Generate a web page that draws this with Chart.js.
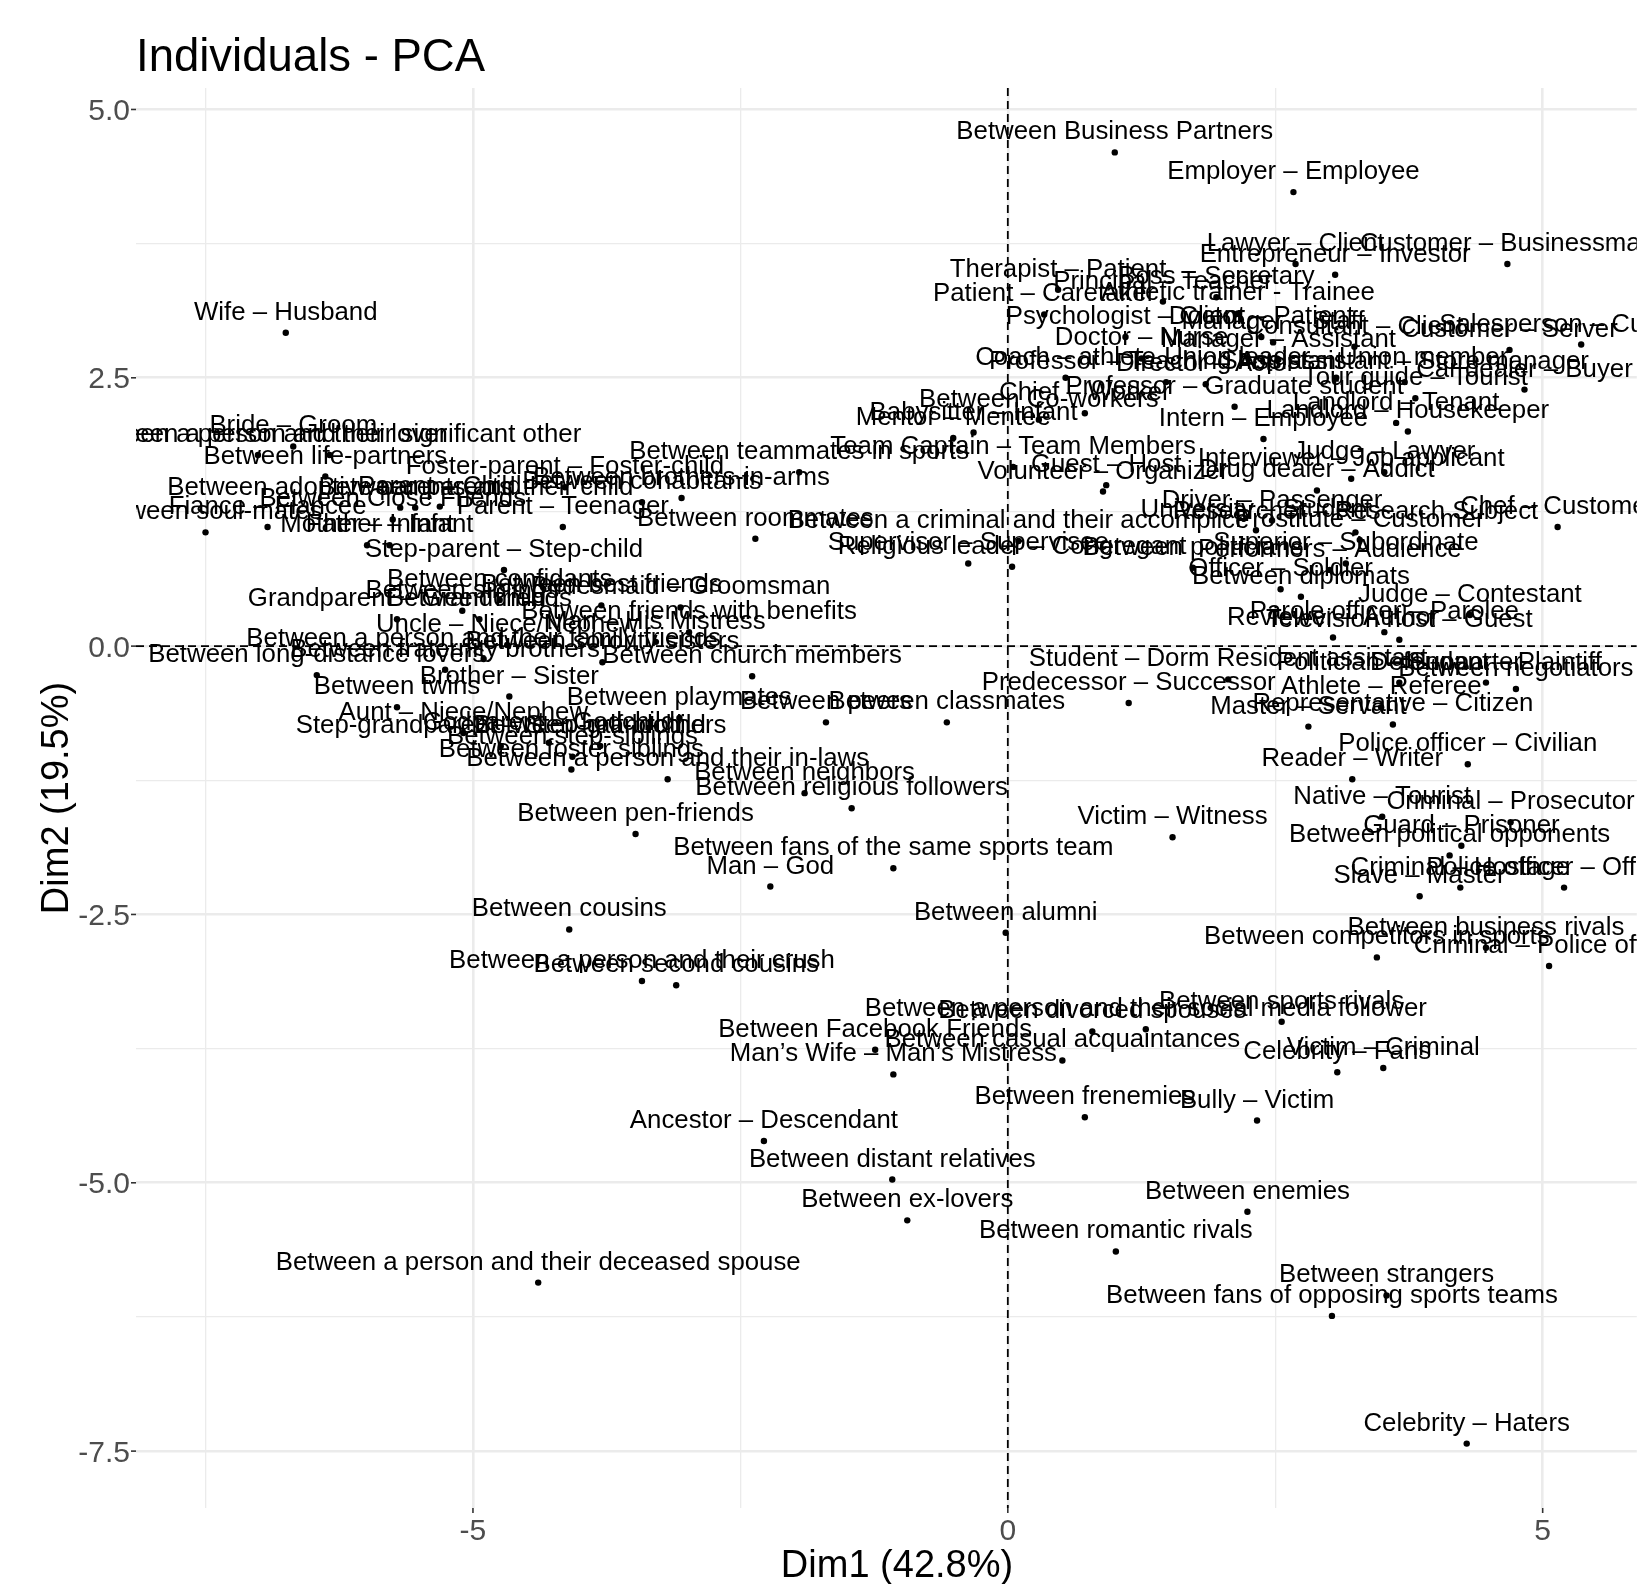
<!DOCTYPE html>
<html><head><meta charset="utf-8">
<script src="https://cdn.jsdelivr.net/npm/chart.js@4"></script>
<style>html,body{margin:0;padding:0;background:#fff}#c{display:block}</style>
</head><body>
<canvas id="c" width="1640" height="1584"></canvas>
<script>
const labels = [
"Between Business Partners","Employer – Employee","Lawyer – Client","Entrepreneur – Investor","Customer – Businessman",
"Therapist – Patient","Principal – Teacher","Boss – Secretary","Athletic trainer - Trainee","Patient – Caretaker",
"Psychologist – Client","Doctor – Patient","Doctor – Nurse","Manager – Staff","Consultant – Client",
"Customer – Server","Salesperson – Customer","Manager – Assistant","Coach – athlete","Professor – Teaching Assistant",
"Director – Actor","Union leader – Union member","Shop assistant – Store manager","Car dealer – Buyer","Tour guide – Tourist",
"Professor – Graduate student","Chief – Worker","Between Co-workers","Babysitter – Infant","Mentor – Mentee",
"Team Captain – Team Members","Guest – Host","Volunteer – Organizer","Intern – Employee","Landlord – Tenant",
"Landlord – Housekeeper","Interviewer – Job applicant","Judge – Lawyer","Drug dealer – Addict","Driver – Passenger",
"Chef – Customer","Researcher – Research Subject","Prostitute – Customer","Superior – Subordinate","Performers – Audience",
"University – Student","Between politicians","Officer – Soldier","Between diplomats","Judge – Contestant",
"Parole officer – Parolee","Television host – Guest","Reviewer – Author","Student – Dorm Resident assistant","Politician – Supporter",
"Between negotiators","Defendant – Plaintiff","Athlete – Referee","Representative – Citizen","Master – Servant",
"Predecessor – Successor","Police officer – Civilian","Reader – Writer","Native – Tourist","Criminal – Prosecutor",
"Guard – Prisoner","Between political opponents","Criminal – Hostage","Police officer – Offender","Slave – Master",
"Between business rivals","Between competitors in sports","Criminal – Police officer","Between sports rivals","Between a person and their social media follower",
"Between divorced spouses","Between casual acquaintances","Between Facebook Friends","Man’s Wife – Man’s Mistress","Celebrity – Fans",
"Victim – Criminal","Between frenemies","Bully – Victim","Between distant relatives","Between enemies",
"Between ex-lovers","Between romantic rivals","Between strangers","Between fans of opposing sports teams","Between a person and their deceased spouse",
"Celebrity – Haters","Victim – Witness","Between alumni","Between religious followers","Between neighbors",
"Between a person and their in-laws","Between pen-friends","Between fans of the same sports team","Man – God","Between cousins",
"Between a person and their crush","Between second cousins","Ancestor – Descendant","Wife – Husband","Bride – Groom",
"Between a person and their significant other","Between a person and their lover","Between life-partners","Fiance – Fiancee","Between soul-mates",
"Between Close Friends","Parent – Teenager","Mother – Infant","Father – Infant","Step-parent – Step-child",
"Between adoptive parents and their child","Between parents","Parent – Child","Foster-parent – Foster-child","Between brothers-in-arms",
"Between cohabitants","Between roommates","Between teammates in sports","Between confidants","Between siblings",
"Grandparent – Grandchild","Between friends","Bridesmaid – Groomsman","Between best friends","Between friends with benefits",
"Man – His Mistress","Uncle – Niece/Nephew","Between a person and their family friends","Between sorority sisters","Between long-distance lovers",
"Between fraternity brothers","Between church members","Brother – Sister","Between twins","Aunt – Niece/Nephew",
"Step-grandparent – Step-grandchild","Godparent – Godchild","Between half-brothers","Between step-siblings","Between foster siblings",
"Between playmates","Between peers","Between classmates","Between a criminal and their accomplice","Religious leader – Congregant",
"Supervisor – Supervisee"
];
const dim1 = [
1.00,2.67,2.69,3.06,4.67, 0.47,1.45,1.95,2.15,0.34, 1.10,2.37,1.25,2.48,3.24, 4.69,5.36,2.53,0.54,1.48,
1.85,3.07,3.71,4.83,3.81, 2.12,0.72,0.29,-0.32,-0.51, 0.05,0.92,0.89,2.39,3.63, 3.74,3.21,3.52,2.89,2.47,
5.14,3.25,3.29,3.16,3.01, 2.32,1.73,2.55,2.74,4.32, 3.52,3.66,3.04,2.06,3.66, 4.75,4.47,3.49,3.60,2.81,
1.13,4.30,3.22,3.50,4.70, 4.24,4.13,4.23,5.20,3.85, 4.47,3.45,5.06,2.56,1.29, 0.79,0.51,-1.24,-1.07,3.08,
3.51,0.72,2.33,-1.08,2.24, -0.94,1.01,3.54,3.03,-4.39, 4.29,1.54,-0.02,-1.46,-1.90, -3.18,-3.48,-1.07,-2.22,-4.10,
-3.42,-3.10,-2.28,-6.75,-6.68, -6.34,-7.01,-6.38,-6.92,-7.50, -5.75,-4.16,-5.99,-5.78,-4.71, -5.68,-5.54,-5.31,-4.14,-3.05,
-3.42,-2.36,-1.95,-4.75,-5.10, -5.71,-4.94,-3.06,-3.80,-2.98, -3.29,-4.68,-4.90,-3.79,-6.46, -5.26,-2.39,-4.66,-5.71,-5.09,
-4.74,-4.29,-3.81,-4.07,-4.08, -3.07,-1.70,-0.57,0.10,0.04, -0.37
];
const dim2 = [
4.60,4.23,3.56,3.46,3.56, 3.32,3.21,3.25,3.10,3.09, 2.88,2.88,2.68,2.83,2.79, 2.76,2.81,2.67,2.50,2.46,
2.44,2.50,2.46,2.39,2.31, 2.23,2.17,2.11,1.99,1.94, 1.67,1.50,1.44,1.93,2.08, 2.00,1.56,1.62,1.45,1.17,
1.11,1.06,0.99,0.77,0.71, 1.08,0.73,0.53,0.46,0.29, 0.13,0.06,0.08,-0.31,-0.34, -0.40,-0.34,-0.57,-0.73,-0.75,
-0.53,-1.10,-1.24,-1.59,-1.64, -1.86,-1.95,-2.25,-2.25,-2.33, -2.81,-2.90,-2.98,-3.50,-3.57, -3.59,-3.86,-3.76,-3.99,-3.97,
-3.93,-4.39,-4.42,-4.97,-5.27, -5.35,-5.64,-6.05,-6.24,-5.93, -7.43,-1.78,-2.67,-1.51,-1.37, -1.24,-1.75,-2.07,-2.24,-2.64,
-3.12,-3.16,-4.61,2.92,1.86, 1.78,1.78,1.58,1.11,1.06, 1.18,1.11,0.94,0.94,0.71, 1.29,1.29,1.30,1.48,1.38,
1.34,1.00,1.62,0.43,0.33, 0.25,0.25,0.36,0.38,0.13, 0.04,0.01,-0.12,-0.15,-0.27, -0.22,-0.28,-0.47,-0.57,-0.81,
-0.93,-0.90,-0.93,-1.03,-1.15, -0.67,-0.71,-0.71,0.98,0.74, 0.77
];
const xMajor = [-5, 0, 5];
const xMajorLabels = ["-5", "0", "5"];
const xMinor = [-7.5, -2.5, 2.5];
const yMajor = [-7.5, -5, -2.5, 0, 2.5, 5];
const yMajorLabels = ["-7.5", "-5.0", "-2.5", "0.0", "2.5", "5.0"];
const yMinor = [-6.25, -3.75, -1.25, 1.25, 3.75];
const titleText = "Individuals - PCA";
const xTitle = "Dim1 (42.8%)";
const yTitle = "Dim2 (19.5%)";

const FONT = '"Liberation Sans", Arial, Helvetica, sans-serif';
Chart.defaults.font.family = FONT;

const decor = {
  id: 'decor',
  beforeDatasetsDraw(chart) {
    const {ctx, chartArea: a, scales: {x, y}} = chart;
    ctx.save();
    ctx.beginPath(); ctx.rect(a.left, a.top, a.right - a.left, a.bottom - a.top); ctx.clip();
    ctx.strokeStyle = '#000'; ctx.lineWidth = 1.8; ctx.setLineDash([8, 5]);
    const x0 = x.getPixelForValue(0), y0 = y.getPixelForValue(0);
    ctx.beginPath(); ctx.moveTo(a.left, y0); ctx.lineTo(a.right, y0); ctx.stroke();
    ctx.beginPath(); ctx.moveTo(x0, a.top); ctx.lineTo(x0, a.bottom); ctx.stroke();
    ctx.restore();
  },
  afterDatasetsDraw(chart) {
    const {ctx, chartArea: a, scales: {x, y}} = chart;
    ctx.save();
    ctx.beginPath(); ctx.rect(a.left, a.top, a.right - a.left, a.bottom - a.top); ctx.clip();
    ctx.font = '25.8px ' + FONT; ctx.fillStyle = '#000';
    ctx.textAlign = 'center'; ctx.textBaseline = 'alphabetic';
    for (let i = 0; i < labels.length; i++) {
      ctx.fillText(labels[i], x.getPixelForValue(dim1[i]), y.getPixelForValue(dim2[i]) - 13);
    }
    ctx.restore();
  },
  afterDraw(chart) {
    const {ctx, chartArea: a, scales: {x, y}} = chart;
    ctx.save();
    ctx.strokeStyle = '#333333'; ctx.lineWidth = 1.6;
    yMajor.forEach(v => { const p = y.getPixelForValue(v); ctx.beginPath(); ctx.moveTo(a.left - 5, p); ctx.lineTo(a.left, p); ctx.stroke(); });
    xMajor.forEach(v => { const p = x.getPixelForValue(v); ctx.beginPath(); ctx.moveTo(p, a.bottom); ctx.lineTo(p, a.bottom + 5); ctx.stroke(); });
    ctx.fillStyle = '#4D4D4D'; ctx.font = '30px ' + FONT; ctx.textBaseline = 'alphabetic';
    ctx.textAlign = 'right';
    yMajor.forEach((v, i) => ctx.fillText(yMajorLabels[i], a.left - 6, y.getPixelForValue(v) + 10.5));
    ctx.textAlign = 'center';
    xMajor.forEach((v, i) => ctx.fillText(xMajorLabels[i], x.getPixelForValue(v), 1540));
    ctx.fillStyle = '#000';
    ctx.font = '45.5px ' + FONT; ctx.textAlign = 'left';
    ctx.fillText(titleText, 136, 71);
    ctx.font = '38px ' + FONT; ctx.textAlign = 'center';
    ctx.fillText(xTitle, 897, 1577);
    ctx.translate(68, (a.top + a.bottom) / 2); ctx.rotate(-Math.PI / 2);
    ctx.fillText(yTitle, 0, 0);
    ctx.restore();
  }
};

const gridOpts = (majors) => ({
  color: '#EBEBEB',
  lineWidth: c => majors.includes(c.tick.value) ? 2.6 : 1.3,
  drawTicks: false
});

new Chart(document.getElementById('c'), {
  type: 'scatter',
  data: { datasets: [{
    data: dim1.map((v, i) => ({x: v, y: dim2[i]})),
    backgroundColor: '#000', borderColor: '#000', borderWidth: 0,
    pointRadius: 3.2, pointHoverRadius: 3.2
  }]},
  options: {
    responsive: false, animation: false, devicePixelRatio: 1, events: [],
    layout: { padding: { top: 88, left: 0, right: 0, bottom: 0 } },
    plugins: { legend: {display: false}, tooltip: {enabled: false}, title: {display: false} },
    scales: {
      x: {
        type: 'linear', min: -8.15, max: 5.88,
        afterFit(s) { s.height = 76; },
        afterBuildTicks(s) { s.ticks = [...xMinor, ...xMajor].sort((p, q) => p - q).map(v => ({value: v})); },
        grid: gridOpts(xMajor), border: {display: false},
        ticks: { display: false }
      },
      y: {
        type: 'linear', min: -8.03, max: 5.20,
        afterFit(s) { s.width = 136; },
        afterBuildTicks(s) { s.ticks = [...yMinor, ...yMajor].sort((p, q) => p - q).map(v => ({value: v})); },
        grid: gridOpts(yMajor), border: {display: false},
        ticks: { display: false }
      }
    }
  },
  plugins: [decor]
});
</script>
</body></html>
